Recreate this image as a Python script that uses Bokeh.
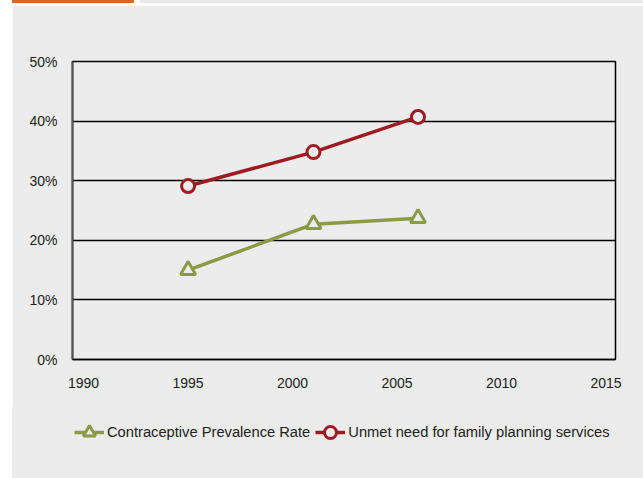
from bokeh.plotting import figure
from bokeh.models import Div, Legend, LegendItem, FixedTicker, PrintfTickFormatter, Range1d, ColumnDataSource
from bokeh.layouts import column
from bokeh.embed import file_html
from bokeh.resources import INLINE

years = [1995, 2001, 2006]
cpr = [15.0, 22.7, 23.7]
unmet = [29.1, 34.8, 40.7]
x_ticks = [1990, 1995, 2000, 2005, 2010, 2015]
y_ticks = [0, 10, 20, 30, 40, 50]
series_names = ["Contraceptive Prevalence Rate", "Unmet need for family planning services"]

GREEN = "#8b9a46"
RED = "#9e1b22"
PANEL = "#ececec"
FONT = "Liberation Sans"
FS = "14px"

# decorative header strip (CSS only)
strip = Div(text="", width=643, height=5, margin=(0, 0, 0, 0),
            styles={"background-color": "#ffffff",
                    "background-image": ("linear-gradient(to right, #ffffff 0px, #ffffff 12px, "
                                         "#d2692b 12px, #d2692b 134px, #ffffff 134px, #ffffff 140px, "
                                         "#e8e8e8 140px, #e8e8e8 643px)"),
                    "background-size": "643px 3px",
                    "background-repeat": "no-repeat"})

p = figure(width=631, height=401, output_backend="svg", toolbar_location=None,
           x_range=Range1d(1989.47, 2015.45), y_range=Range1d(0, 50),
           min_border_left=60, min_border_right=28, min_border_top=56, min_border_bottom=47,
           background_fill_color=PANEL, border_fill_color=PANEL,
           outline_line_color="black", outline_line_width=1.5,
           margin=(0, 0, 0, 12))

src_c = ColumnDataSource(dict(x=years, y=cpr))
src_u = ColumnDataSource(dict(x=years, y=unmet))

line_c = dict(line_color=GREEN, line_width=3.5)
mark_c = dict(marker="triangle", size=15, line_color=GREEN, line_width=3, fill_color=PANEL)
line_u = dict(line_color=RED, line_width=3.5)
mark_u = dict(marker="circle", size=13, line_color=RED, line_width=3, fill_color=PANEL)

p.line("x", "y", source=src_c, **line_c)
p.scatter("x", "y", source=src_c, **mark_c)
p.line("x", "y", source=src_u, **line_u)
p.scatter("x", "y", source=src_u, **mark_u)

p.xaxis.ticker = FixedTicker(ticks=x_ticks)
p.yaxis.ticker = FixedTicker(ticks=y_ticks)
p.yaxis.formatter = PrintfTickFormatter(format="%d%%")
for ax in (p.xaxis[0], p.yaxis[0]):
    ax.major_tick_line_color = None
    ax.minor_tick_line_color = None
    ax.major_label_text_font = FONT
    ax.major_label_text_font_size = FS
    ax.major_label_text_color = "#222222"
p.xaxis.axis_line_color = "black"
p.xaxis.axis_line_width = 1.5
p.xaxis.major_label_standoff = 12
p.yaxis.axis_line_color = "#555555"
p.yaxis.axis_line_width = 2
p.yaxis.major_label_standoff = 9

p.xgrid.grid_line_color = None
p.ygrid.grid_line_color = "black"
p.ygrid.grid_line_width = 1.6

# legend panel below the chart (its renderers sit outside its visible range)
lf = figure(width=631, height=72, output_backend="svg", toolbar_location=None,
            x_range=Range1d(0, 1), y_range=Range1d(0, 1),
            min_border=0, background_fill_alpha=0, border_fill_alpha=0,
            outline_line_color=None, margin=(0, 0, 0, 12),
            styles={"background-color": PANEL})
lf.axis.visible = False
lf.grid.visible = False
r1 = lf.line("x", "y", source=src_c, **line_c)
r2 = lf.scatter("x", "y", source=src_c, **mark_c)
r3 = lf.line("x", "y", source=src_u, **line_u)
r4 = lf.scatter("x", "y", source=src_u, **mark_u)
legend = Legend(items=[LegendItem(label=series_names[0], renderers=[r1, r2]),
                       LegendItem(label=series_names[1], renderers=[r3, r4])],
                orientation="horizontal", location=(2, 31),
                label_text_font=FONT, label_text_font_size="14.7px", label_text_color="#222222",
                background_fill_alpha=0, border_line_color=None,
                glyph_width=30, glyph_height=30, label_standoff=3, spacing=5,
                padding=0, margin=0)
lf.add_layout(legend, "center")

layout = column(strip, p, lf, spacing=0, margin=0)
open("out.html", "w").write(file_html(layout, INLINE))
